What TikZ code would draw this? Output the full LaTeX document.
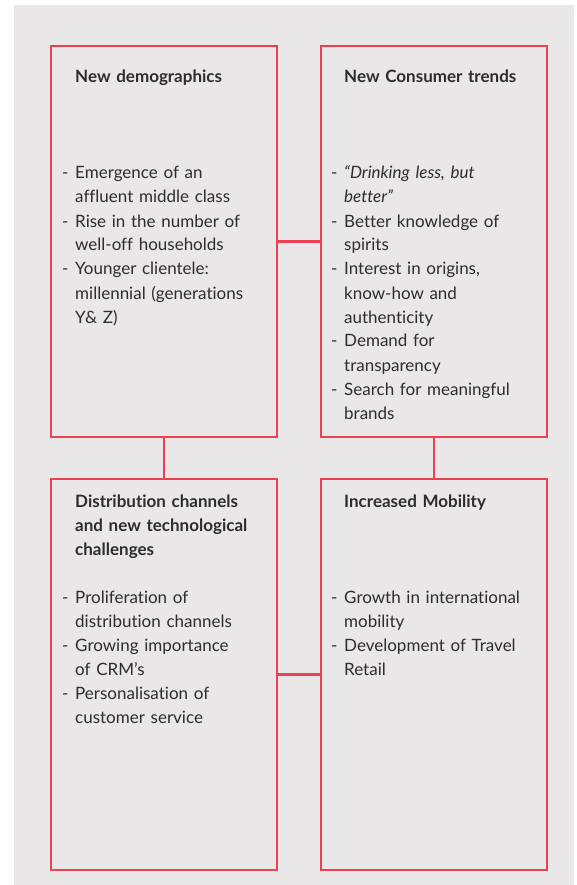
\documentclass[tikz,border=0pt]{standalone}
\usepackage{fontspec}
\setmainfont{Lato}[Ligatures=NoCommon]
\definecolor{boxred}{RGB}{238,64,80}
\definecolor{bggrey}{RGB}{233,231,232}
\definecolor{txtgrey}{RGB}{45,45,45}
\newcommand{\dashitem}[1]{\noindent\hangindent=13pt\hangafter=1\makebox[13pt][l]{-}#1\par}
\begin{document}
\begin{tikzpicture}[x=1pt, y=-1pt,
        box/.style={draw=boxred, line width=2.5pt, minimum width=226pt, minimum height=391pt, inner sep=0pt},
        link/.style={draw=boxred, line width=2.5pt},
        head/.style={anchor=base west, inner sep=0pt, text width=200pt, align=left, text=txtgrey, font=\fontsize{17}{24}\selectfont\bfseries},
        items/.style={anchor=base west, inner sep=0pt, text width=215pt, align=left, text=txtgrey, font=\fontsize{17}{24}\selectfont}]
    \useasboundingbox (0,0) rectangle (576,885);
    \fill[bggrey] (14,5) rectangle (574,885);

    \node[box] (demo) at (164,241.5) {};
    \node[box] (trends) at (434,241.5) {};
    \node[box] (distrib) at (164,674.5) {};
    \node[box] (mobil) at (434,674.5) {};

    \draw[link] (demo) -- (trends);
    \draw[link] (demo) -- (distrib);
    \draw[link] (trends) -- (mobil);
    \draw[link] (distrib) -- (mobil);

    \node[head] (demoT) at (75,83) {New demographics};
    \node[items] (demoL) at (62,179) {%
        \dashitem{Emergence of an\newline affluent middle class}%
        \dashitem{Rise in the number of\newline well-off households}%
        \dashitem{Younger clientele:\newline millennial (generations\newline Y\& Z)}};

    \node[head] (trendsT) at (344,83) {New Consumer trends};
    \node[items] (trendsL) at (331,179) {%
        \dashitem{{\itshape “Drinking less, but\newline better”}}%
        \dashitem{Better knowledge of\newline spirits}%
        \dashitem{Interest in origins,\newline know-how and\newline authenticity}%
        \dashitem{Demand for\newline transparency}%
        \dashitem{Search for meaningful\newline brands}};

    \node[head] (distribT) at (75,507) {Distribution channels\\and new technological\\challenges};
    \node[items] (distribL) at (62,603) {%
        \dashitem{Proliferation of\newline distribution channels}%
        \dashitem{Growing importance\newline of CRM’s}%
        \dashitem{Personalisation of\newline customer service}};

    \node[head] (mobilT) at (344,507) {Increased Mobility};
    \node[items] (mobilL) at (331,603) {%
        \dashitem{Growth in international\newline mobility}%
        \dashitem{Development of Travel\newline Retail}};
\end{tikzpicture}
\end{document}
